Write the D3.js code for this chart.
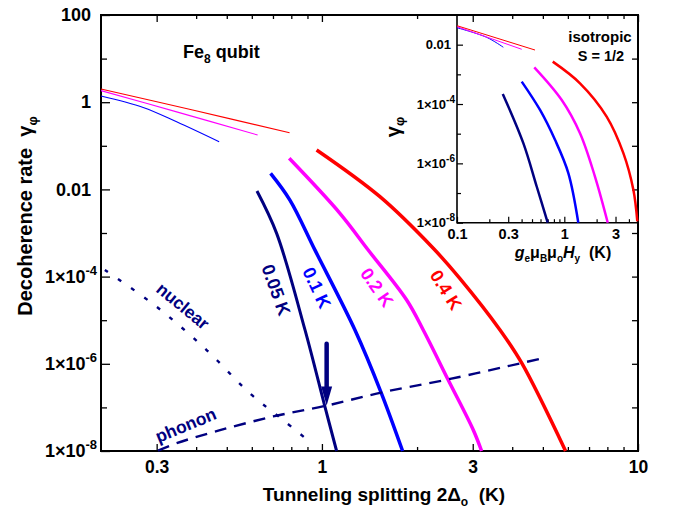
<!DOCTYPE html>
<html><head><meta charset="utf-8">
<script src="https://cdn.jsdelivr.net/npm/d3@7"></script>
<style>
body{margin:0;background:#fff}
svg text{font-family:"Liberation Sans",Arial,Helvetica,sans-serif;font-weight:bold;white-space:pre}
</style></head><body>
<svg id="c" width="673" height="508"></svg>
<script>
// ---------- data ----------
const tempLabels = ["0.05 K","0.1 K","0.2 K","0.4 K"];
const tempColors = ["#000080","#0000ff","#ff00ff","#ff0000"];

// main panel: thin (low-field) branches
const mainThin01 = [[0.2,1.39],[0.272,0.76],[0.347,0.356],[0.473,0.124]];
const mainThin02 = [[0.2,1.84],[0.347,0.60],[0.626,0.177]];
const mainThin04 = [[0.2,2.0],[0.39,0.66],[0.79,0.20]];
// main panel: thick branches
const main005 = [[0.623,9.2e-3],[0.719,9.8e-4],[0.884,6.0e-6],[1.022,1.04e-7],[1.113,1e-8]];
const main01  = [[0.688,0.0234],[0.792,5.7e-3],[0.950,4.1e-4],[1.272,5.96e-6],[1.537,2.25e-7],[1.80,1e-8]];
const main02  = [[0.788,0.0516],[1.140,2.83e-3],[1.401,4.07e-4],[1.854,2.9e-5],[2.092,5.96e-6],[2.51,4.25e-7],[3.012,3.03e-8],[3.20,1e-8]];
const main04  = [[0.962,0.0802],[1.526,6.8e-3],[2.25,4.46e-4],[2.73,9.1e-5],[3.66,5.96e-6],[4.29,1.03e-6],[5.90,1e-8]];
const phonon  = [[0.303,1.02e-8],[0.347,1.51e-8],[0.476,3.0e-8],[0.701,6.2e-8],[1.035,1.1e-7],[1.563,2.24e-7],[2.51,4.4e-7],[4.23,1.02e-6],[5.08,1.38e-6]];
const nuclear = [[0.2057,1.42e-4],[0.2998,2.04e-5],[0.4316,2.07e-6],[0.5918,2.1e-7],[0.7543,5.1e-8],[0.9277,1.5e-8]];
const arrowX = 1.035, arrowFrom = 3.2e-6, arrowTo = 1.1e-7;

// inset (isotropic S = 1/2)
const insThin01 = [[0.1,0.0373],[0.189,0.0177],[0.270,8.2e-3]];
const insThin02 = [[0.1,0.0404],[0.401,7.0e-3]];
const insThin04 = [[0.1,0.0436],[0.533,6.6e-3]];
const ins005 = [[0.267,2.19e-4],[0.415,4.8e-6],[0.553,1.66e-7],[0.700,1e-8]];
const ins01  = [[0.401,5.7e-4],[0.594,6.3e-5],[0.819,6.2e-6],[1.09,4.7e-7],[1.35,1e-8]];
const ins02  = [[0.525,1.73e-3],[0.946,1.37e-4],[1.40,1.04e-5],[1.93,3.6e-7],[2.54,1e-8]];
const ins04  = [[0.78,2.68e-3],[1.40,5.0e-4],[2.48,3.77e-5],[3.55,2.2e-6],[4.40,1.28e-7],[4.79,1.1e-8]];

// ticks
const mainXMajor = [0.3,1,3,10];
const mainXLabels = ["0.3","1","3","10"];
const mainXMinor = [0.4,0.5,0.6,0.7,0.8,0.9,2,4,5,6,7,8,9];
const mainYMajor = [100,1,0.01,1e-4,1e-6,1e-8];
const mainYLabels = ["100","1","0.01","1×10^-4","1×10^-6","1×10^-8"];
const mainYMinor = [10,0.1,1e-3,1e-5,1e-7];
const mainYRight = [10,1,0.1,0.01,1e-3,1e-4,1e-5,1e-6,1e-7];
const insXMajor = [0.1,0.3,1,3];
const insXLabels = ["0.1","0.3","1","3"];
const insXMinor = [0.2,0.4,0.5,0.6,0.7,0.8,0.9,2,4];
const insYMajor = [0.01,1e-4,1e-6,1e-8];
const insYLabels = ["0.01","1×10^-4","1×10^-6","1×10^-8"];
const insYMinor = [1e-3,1e-5,1e-7];

// ---------- scales ----------
const svg = d3.select("#c");
const x = d3.scaleLog().domain([0.2,10]).range([101,638]);
const y = d3.scaleLog().domain([1e-8,100]).range([451,15]);
const ix = d3.scaleLog().domain([0.1,4.86]).range([457,638]);
const iy = d3.scaleLog().domain([1e-8,0.1]).range([222.7,15]);

function setLabel(sel, str, supSize){
  const parts = str.split("^");
  sel.text(parts[0]);
  if(parts.length>1){
    sel.append("tspan").attr("font-size",supSize).attr("dy",-supSize*0.6).text(parts[1]);
  }
}
function axisG(axis, transform, stroke){
  const g = svg.append("g").attr("transform",transform).call(axis);
  g.attr("font-size",null).attr("font-family",null);
  g.selectAll("line").attr("stroke","#000").attr("stroke-width",stroke);
  g.selectAll(".domain").remove();
  return g;
}

// ---------- main axes ----------
axisG(d3.axisBottom(x).tickValues(mainXMinor).tickSize(-4).tickSizeOuter(0).tickFormat(""),"translate(0,451)",1.3);
axisG(d3.axisTop(x).tickValues(mainXMinor).tickSize(-4).tickSizeOuter(0).tickFormat(""),"translate(0,15)",1.3);
axisG(d3.axisTop(x).tickValues(mainXMajor).tickSize(-7).tickSizeOuter(0).tickFormat(""),"translate(0,15)",1.3);
axisG(d3.axisLeft(y).tickValues(mainYMinor).tickSize(-6).tickSizeOuter(0).tickFormat(""),"translate(101,0)",1.3);
axisG(d3.axisRight(y).tickValues(mainYRight).tickSize(-6).tickSizeOuter(0).tickFormat(""),"translate(638,0)",1.3);
const gxb = axisG(d3.axisBottom(x).tickValues(mainXMajor).tickSize(-7).tickSizeOuter(0).tickPadding(10)
  .tickFormat((d,i)=>mainXLabels[i]),"translate(0,451)",1.3);
gxb.selectAll("text").attr("font-size",17.5).attr("fill","#000");
const gyl = axisG(d3.axisLeft(y).tickValues(mainYMajor).tickSize(-9).tickSizeOuter(0).tickPadding(10)
  .tickFormat(""),"translate(101,0)",1.3);
gyl.selectAll("text").attr("font-size",18).attr("fill","#000")
  .each(function(d,i){
    const s = mainYLabels[i];
    const t = d3.select(this);
    setLabel(t, s, 13);
    if(s.includes("^")) t.attr("x",-4);
  });
svg.append("rect").attr("x",x.range()[0]).attr("y",y.range()[1])
  .attr("width",x.range()[1]-x.range()[0]).attr("height",y.range()[0]-y.range()[1])
  .attr("fill","none").attr("stroke","#000").attr("stroke-width",2);

// ---------- main curves ----------
const line = d3.line().x(d=>x(d[0])).y(d=>y(d[1])).curve(d3.curveCatmullRom.alpha(0.5));
const thinMain = [mainThin01, mainThin02, mainThin04];
const thinCols = [tempColors[1],tempColors[2],tempColors[3]];
thinMain.forEach((d,i)=>svg.append("path").attr("d",line(d)).attr("fill","none")
  .attr("stroke",thinCols[i]).attr("stroke-width",1.1));
[main005,main01,main02,main04].forEach((d,i)=>svg.append("path").attr("d",line(d)).attr("fill","none")
  .attr("stroke",tempColors[i]).attr("stroke-width",i===0?3:3.5).attr("stroke-linecap","butt"));
svg.append("path").attr("d",line(phonon)).attr("fill","none").attr("stroke","#000080")
  .attr("stroke-width",2.4).attr("stroke-dasharray","12,8");
svg.append("path").attr("d",line(nuclear)).attr("fill","none").attr("stroke","#000080")
  .attr("stroke-width",2.4).attr("stroke-dasharray","4,12");
// arrow
const ax0 = x(arrowX), ayTop = y(arrowFrom), ayTip = y(arrowTo);
svg.append("line").attr("x1",ax0).attr("x2",ax0).attr("y1",ayTop+2).attr("y2",ayTip-14)
  .attr("stroke","#000080").attr("stroke-width",4.5).attr("stroke-linecap","round");
svg.append("path").attr("d",`M${ax0-5.5},${ayTip-19}L${ax0+5.5},${ayTip-19}L${ax0},${ayTip}Z`).attr("fill","#000080");

// curve labels
const labelPos = [[0.715,4.9e-5,70],[0.962,5.5e-5,65],[1.49,5.6e-5,55],[2.465,4.9e-5,58]];
labelPos.forEach((p,i)=>svg.append("text").attr("transform",`translate(${x(p[0])},${y(p[1])}) rotate(${p[2]})`)
  .attr("text-anchor","middle").attr("dominant-baseline","central").attr("font-size",18)
  .attr("fill",tempColors[i]).text(tempLabels[i]));
svg.append("text").attr("transform",`translate(${x(0.363)},${y(2.1e-5)}) rotate(39.5)`)
  .attr("text-anchor","middle").attr("dominant-baseline","central").attr("font-size",17.5)
  .attr("fill","#000080").text("nuclear");
svg.append("text").attr("transform",`translate(${x(0.371)},${y(3.9e-8)}) rotate(-22.5)`)
  .attr("text-anchor","middle").attr("dominant-baseline","central").attr("font-size",17.5)
  .attr("fill","#000080").text("phonon");

// Fe8 qubit
const fe = svg.append("text").attr("x",183).attr("y",58).attr("font-size",18).attr("fill","#000");
fe.append("tspan").text("Fe");
fe.append("tspan").attr("font-size",12).attr("dy",5).text("8");
fe.append("tspan").attr("dy",-5).text(" qubit");

// axis titles
const xt = svg.append("text").attr("x",384).attr("y",501).attr("text-anchor","middle").attr("font-size",19).attr("fill","#000");
xt.append("tspan").text("Tunneling splitting 2Δ");
xt.append("tspan").attr("font-size",12).attr("dy",5).text("o");
xt.append("tspan").attr("dy",-5).text("  (K)");
const yt = svg.append("text").attr("transform","translate(32,216) rotate(-90)").attr("text-anchor","middle")
  .attr("font-size",20).attr("fill","#000");
yt.append("tspan").text("Decoherence rate  γ");
yt.append("tspan").attr("font-size",13).attr("dy",5).text("φ");

// ---------- inset ----------
axisG(d3.axisBottom(ix).tickValues(insXMinor).tickSize(-3.5).tickSizeOuter(0).tickFormat(""),"translate(0,222.7)",1.2);
axisG(d3.axisLeft(iy).tickValues(insYMinor).tickSize(-4).tickSizeOuter(0).tickFormat(""),"translate(457,0)",1.2);
const gix = axisG(d3.axisBottom(ix).tickValues(insXMajor).tickSize(-6).tickSizeOuter(0).tickPadding(6)
  .tickFormat((d,i)=>insXLabels[i]),"translate(0,222.7)",1.2);
gix.selectAll("text").attr("font-size",14.5).attr("fill","#000");
const giy = axisG(d3.axisLeft(iy).tickValues(insYMajor).tickSize(-6).tickSizeOuter(0).tickPadding(6)
  .tickFormat(""),"translate(457,0)",1.2);
giy.selectAll("text").attr("font-size",13).attr("fill","#000")
  .each(function(d,i){
    const s = insYLabels[i];
    const t = d3.select(this);
    setLabel(t, s, 10);
    if(s.includes("^")) t.attr("x",-2);
  });
svg.append("path").attr("d",`M${ix.range()[0]},${iy.range()[1]}V${iy.range()[0]}H${ix.range()[1]}`)
  .attr("fill","none").attr("stroke","#000").attr("stroke-width",1.6);

const iline = d3.line().x(d=>ix(d[0])).y(d=>iy(d[1])).curve(d3.curveCatmullRom.alpha(0.5));
[insThin01,insThin02,insThin04].forEach((d,i)=>svg.append("path").attr("d",iline(d)).attr("fill","none")
  .attr("stroke",thinCols[i]).attr("stroke-width",1));
[ins005,ins01,ins02,ins04].forEach((d,i)=>svg.append("path").attr("d",iline(d)).attr("fill","none")
  .attr("stroke",tempColors[i]).attr("stroke-width",2.5));

svg.append("text").attr("x",600).attr("y",42).attr("text-anchor","middle").attr("font-size",15).attr("fill","#000").text("isotropic");
svg.append("text").attr("x",601).attr("y",60.5).attr("text-anchor","middle").attr("font-size",14.5).attr("fill","#000").text("S = 1/2");

const ixt = svg.append("text").attr("x",563).attr("y",258).attr("text-anchor","middle").attr("font-size",16).attr("fill","#000");
ixt.append("tspan").attr("font-style","italic").text("g");
ixt.append("tspan").attr("font-size",10).attr("dy",4).text("e");
ixt.append("tspan").attr("dy",-4).text("μ");
ixt.append("tspan").attr("font-size",10).attr("dy",4).text("B");
ixt.append("tspan").attr("dy",-4).text("μ");
ixt.append("tspan").attr("font-size",10).attr("dy",4).text("o");
ixt.append("tspan").attr("dy",-4).attr("font-style","italic").text("H");
ixt.append("tspan").attr("font-size",10).attr("dy",4).text("y");
ixt.append("tspan").attr("dy",-4).text("  (K)");

const iyt = svg.append("text").attr("transform","translate(400,127) rotate(-90)").attr("text-anchor","middle")
  .attr("font-size",20).attr("font-weight","normal").attr("fill","#000");
iyt.append("tspan").text("γ");
iyt.append("tspan").attr("font-size",13).attr("dy",4).text("φ");
</script>
</body></html>
